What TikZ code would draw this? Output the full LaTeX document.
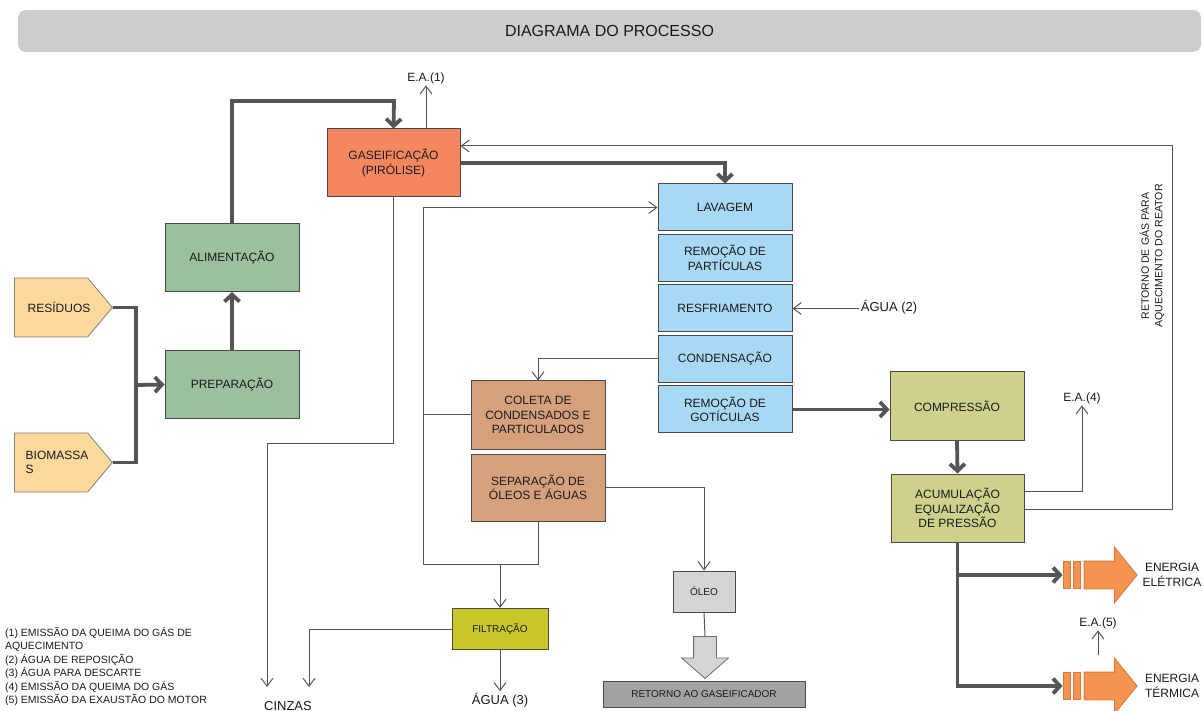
\documentclass[tikz,border=0pt]{standalone}
\usepackage{fontspec}
\setmainfont{Liberation Sans}
\usetikzlibrary{positioning,shapes.symbols,shapes.arrows,arrows.meta}
\definecolor{cHead}{HTML}{CDCDCD}
\definecolor{cIn}{HTML}{FDD99B}
\definecolor{cGreen}{HTML}{9CBF9C}
\definecolor{cGas}{HTML}{F5875E}
\definecolor{cBlue}{HTML}{A8D8F4}
\definecolor{cBrown}{HTML}{D6A07D}
\definecolor{cOlive}{HTML}{CDD18B}
\definecolor{cFilt}{HTML}{C9C72A}
\definecolor{cLight}{HTML}{D4D4D4}
\definecolor{cDark}{HTML}{A3A3A3}
\definecolor{cOrange}{HTML}{F59450}
\definecolor{cOrangeD}{HTML}{D9793F}
\definecolor{wire}{HTML}{555555}
\definecolor{edge}{HTML}{4A4A4A}
\definecolor{ink}{HTML}{1A1A1A}

\begin{document}
\begin{tikzpicture}[
	x=1pt, y=-1pt,
	box/.style={
		draw=edge, line width=1pt,
		minimum width=134pt, minimum height=68pt,
		inner sep=2pt, align=center, text=ink,
		font=\fontsize{12}{14.5}\selectfont
	},
	wash/.style={box, fill=cBlue, minimum height=47pt},
	feed/.style={
		signal, signal to=east, signal pointer angle=100,
		draw=edge!70, fill=cIn, line width=.8pt,
		minimum width=98pt, minimum height=59pt,
		align=left, text=ink, font=\fontsize{12}{14.5}\selectfont
	},
	small/.style={box, font=\fontsize{10}{12}\selectfont},
	bar/.style={draw=cOrangeD, fill=cOrange, line width=.8pt,
		minimum width=7pt, minimum height=27pt, inner sep=0pt},
	power/.style={single arrow, draw=cOrangeD, fill=cOrange, line width=.8pt,
		inner sep=13.5pt, minimum height=53pt, single arrow head extend=14pt,
		single arrow tip angle=102, single arrow head indent=0pt},
	heavy/.style={draw=wire, line width=3.8pt},
	heavyarrow/.style={heavy, -{Straight Barb[length=7pt,width=15pt]}},
	thin/.style={draw=wire, line width=1pt},
	thinarrow/.style={thin, -{Straight Barb[length=8pt,width=12pt]}},
	lbl/.style={inner sep=1.5pt, text=ink, font=\fontsize{13}{15}\selectfont}
	]
	\useasboundingbox (0,0) rectangle (1203,711);
	\node[fill=cHead, rounded corners=8pt, minimum width=1183pt, minimum height=42pt,
		text=ink, font=\fontsize{16}{18}\selectfont] (title) at (609.5,31) {DIAGRAMA DO PROCESSO};

	\node[feed, anchor=west] (res) at (14,307.5) {\hspace*{8pt}RESÍDUOS\hspace*{-8pt}};
	\node[feed, anchor=west] (bio) at (14,462.5) {\hspace*{6pt}BIOMASSA\hspace*{-6pt}\\\hspace*{6pt}S};
	\node[box, fill=cGreen] (prep) at (232,384.5) {PREPARAÇÃO};
	\node[box, fill=cGreen] (alim) at (232,257.5) {ALIMENTAÇÃO};
	\node[box, fill=cGas, minimum width=133pt] (gas) at (393.5,163) {GASEIFICAÇÃO\\(PIRÓLISE)};

	\node[wash] (lav) at (725,207.5) {LAVAGEM};
	\node[wash, below=2.5pt of lav] (part) {REMOÇÃO DE\\PARTÍCULAS};
	\node[wash, below=2.5pt of part] (cool) {RESFRIAMENTO};
	\node[wash, below=2.5pt of cool] (cond) {CONDENSAÇÃO};
	\node[wash, below=2.5pt of cond] (drop) {REMOÇÃO DE\\GOTÍCULAS};

	\node[box, fill=cBrown] (col) at (538,415) {COLETA DE\\CONDENSADOS E\\PARTICULADOS};
	\node[box, fill=cBrown, minimum height=67pt, below=4pt of col] (sep) {SEPARAÇÃO DE\\ÓLEOS E ÁGUAS};
	\node[small, fill=cFilt, minimum width=96pt, minimum height=41pt] (filt) at (500,629) {FILTRAÇÃO};
	\node[small, fill=cLight, minimum width=62pt, minimum height=41pt] (oleo) at (704,591.5) {ÓLEO};
	\node[power, fill=cLight, draw=edge!80, inner sep=11pt, minimum height=42pt,
		single arrow head extend=12pt, single arrow tip angle=98,
		shape border rotate=270, anchor=tail] (oil) at (705,636) {};
	\node[small, fill=cDark, minimum width=202pt, minimum height=26pt] (ret) at (704,694) {RETORNO AO GASEIFICADOR};

	\node[box, fill=cOlive] (comp) at (957,406) {COMPRESSÃO};
	\node[box, fill=cOlive, minimum width=133pt] (acum) at (957.5,508) {ACUMULAÇÃO\\EQUALIZAÇÃO\\DE PRESSÃO};

	\node[bar] (e1a) at (1066.5,575) {};
	\node[bar, right=2.5pt of e1a] (e1b) {};
	\node[power, right=3pt of e1b] (e1) {};
	\node[bar] (e2a) at (1066.5,686) {};
	\node[bar, right=2.5pt of e2a] (e2b) {};
	\node[power, right=3pt of e2b] (e2) {};

	\node[lbl, font=\fontsize{12}{14}\selectfont] (ea1) at (426,78) {E.A.(1)};
	\node[lbl, font=\fontsize{12}{14}\selectfont] (ea4) at (1082,398) {E.A.(4)};
	\node[lbl, font=\fontsize{12}{14}\selectfont] (ea5) at (1098,623) {E.A.(5)};
	\node[lbl] (agua2) at (889,307) {ÁGUA (2)};
	\node[lbl] (agua3) at (500,700) {ÁGUA (3)};
	\node[lbl] (cinzas) at (288,706) {CINZAS};
	\node[lbl, align=center, font=\fontsize{12}{15}\selectfont] (eel) at (1172,575) {ENERGIA\\ELÉTRICA};
	\node[lbl, align=center, font=\fontsize{12}{15}\selectfont] (eter) at (1172,686) {ENERGIA\\TÉRMICA};
	\node[lbl, rotate=90, align=center, font=\fontsize{10.6}{13.5}\selectfont] (back) at (1152,256)
		{RETORNO DE GÁS PARA\\AQUECIMENTO DO REATOR};
	\node[anchor=north west, align=left, inner sep=0pt, text=ink,
		font=\fontsize{10.5}{13.4}\selectfont] (notes) at (5,627)
		{(1) EMISSÃO DA QUEIMA DO GÁS DE\\AQUECIMENTO\\(2) ÁGUA DE REPOSIÇÃO\\(3) ÁGUA PARA DESCARTE\\(4) EMISSÃO DA QUEIMA DO GÁS\\(5) EMISSÃO DA EXAUSTÃO DO MOTOR};

	\coordinate (bus) at (136,385);
	\coordinate (top) at (394,101);
	\coordinate (ash) at (267,443);
	\coordinate (cz1) at (267,687);
	\coordinate (cz2) at (309,687);
	\coordinate (loop) at (423,564);
	\coordinate (rt) at (1172,146);
	\coordinate (ex5) at (1098,655);

	\draw[heavy] (res.east) -| (bus) |- (bio.east);
	\draw[heavyarrow] (bus) -- (prep.west);
	\draw[heavyarrow] (prep.north) -- (alim.south);
	\draw[heavyarrow] (alim.north) |- (top) -- (gas.north);
	\draw[heavyarrow] (gas.east) -| (lav.north);
	\draw[heavyarrow] (drop.east) -- (drop.east -| comp.west);
	\draw[heavyarrow] (comp.south) -- (acum.north);
	\draw[heavyarrow] (acum.south) |- (e2a.west);
	\draw[heavyarrow] (acum.south |- e1a.west) -- (e1a.west);

	\draw[thinarrow] (gas.north -| ea1) -- (ea1.south);
	\draw[thinarrow] ([yshift=-1pt]acum.east) -| (rt) -- ([yshift=17pt]gas.east);
	\draw[thinarrow] ([yshift=17pt]acum.east) -| (ea4.south);
	\draw[thinarrow] (ex5) -- (ea5.south);
	\draw[thinarrow] (agua2.west |- cool.east) -- (cool.east);
	\draw[thinarrow] (gas.south) |- (ash) -- (cz1);
	\draw[thinarrow] (filt.west) -| (cz2);
	\draw[thinarrow] (filt.south) -- (agua3.north);
	\draw[thinarrow] (cond.west) -| (col.north);
	\draw[thinarrow] (sep.south) |- (loop) |- (lav.west);
	\draw[thin] (col.west) -- (col.west -| loop);
	\draw[thinarrow] (filt.north |- loop) -- (filt.north);
	\draw[thinarrow] (sep.east) -| (oleo.north);
	\draw[thin] (oleo.south) -- (oil.tail);
\end{tikzpicture}
\end{document}
